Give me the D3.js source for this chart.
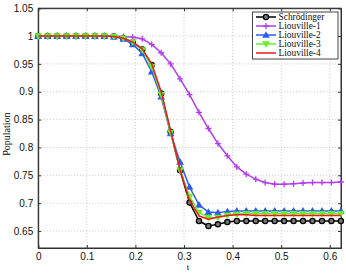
<!DOCTYPE html>
<html>
<head>
<meta charset="utf-8">
<script src="https://cdn.jsdelivr.net/npm/d3@7"></script>
<style>
  body { margin: 0; background: #fff; }
  svg { display: block; }
</style>
</head>
<body>
<script>
const tStep = 0.01946;
const tValues = d3.range(33).map(i => i * tStep);

// Population per series
const schrodinger = [1,1,1,1,1,1,1,1,0.999,0.996,0.989,0.976,0.948,0.897,0.828,0.759,0.701,0.668,0.659,0.662,0.666,0.668,0.668,0.668,0.668,0.668,0.668,0.668,0.668,0.668,0.668,0.668,0.668];
const liouville1 = [1,1,1,1,1,1,1,1,1,0.999,0.998,0.995,0.985,0.970,0.950,0.923,0.895,0.863,0.834,0.807,0.785,0.765,0.752,0.743,0.737,0.734,0.734,0.735,0.736,0.737,0.737,0.737,0.738];
const liouville2 = [1,1,1,1,1,1,1,1,0.999,0.995,0.985,0.969,0.936,0.891,0.825,0.774,0.729,0.697,0.684,0.683,0.685,0.686,0.686,0.686,0.686,0.686,0.686,0.686,0.686,0.686,0.686,0.686,0.686];
const liouville3 = [1,1,1,1,1,1,1,1,0.999,0.996,0.989,0.975,0.945,0.895,0.827,0.759,0.712,0.683,0.674,0.674,0.678,0.680,0.681,0.681,0.681,0.681,0.681,0.681,0.681,0.681,0.681,0.681,0.681];
const liouville4 = [1,1,1,1,1,1,1,1,0.999,0.996,0.989,0.977,0.950,0.900,0.830,0.760,0.705,0.677,0.671,0.675,0.678,0.679,0.679,0.678,0.678,0.678,0.678,0.678,0.678,0.678,0.678,0.678,0.678];

const seriesNames = ["Schrödinger", "Liouville-1", "Liouville-2", "Liouville-3", "Liouville-4"];
const xTicks = [0, 0.1, 0.2, 0.3, 0.4, 0.5, 0.6];
const yTicks = [0.65, 0.7, 0.75, 0.8, 0.85, 0.9, 0.95, 1, 1.05];

const width = 346, height = 273;
const plotLeft = 38.2, plotRight = 341, plotTop = 8.2, plotBottom = 248;

const svg = d3.select("body").append("svg")
  .attr("width", width)
  .attr("height", height);

const x = d3.scaleLinear().domain([0, 0.623]).range([plotLeft, plotRight]);
const y = d3.scaleLinear().domain([0.6195, 1.05]).range([plotBottom, plotTop]);

// Grid lines (dotted)
svg.append("g").selectAll("line").data(xTicks.slice(1)).join("line")
  .attr("x1", d => x(d)).attr("x2", d => x(d))
  .attr("y1", plotTop).attr("y2", plotBottom)
  .attr("stroke", "#c8c8c8").attr("stroke-dasharray", "1,2");
svg.append("g").selectAll("line").data(yTicks.slice(0, -1)).join("line")
  .attr("x1", plotLeft).attr("x2", plotRight)
  .attr("y1", d => y(d)).attr("y2", d => y(d))
  .attr("stroke", "#c8c8c8").attr("stroke-dasharray", "1,2");

// Axes with inward ticks on all four sides
const tickFont = "Liberation Sans, Arial, sans-serif";
svg.append("g").attr("transform", `translate(0,${plotBottom})`)
  .call(d3.axisBottom(x).tickValues(xTicks).tickSize(-3).tickPadding(5).tickFormat(d3.format("")));
svg.append("g").attr("transform", `translate(${plotLeft},0)`)
  .call(d3.axisLeft(y).tickValues(yTicks).tickSize(-3).tickPadding(5).tickFormat(d3.format("")));
svg.append("g").attr("transform", `translate(0,${plotTop})`)
  .call(d3.axisTop(x).tickValues(xTicks).tickSize(-3).tickFormat(""));
svg.append("g").attr("transform", `translate(${plotRight},0)`)
  .call(d3.axisRight(y).tickValues(yTicks).tickSize(-3).tickFormat(""));
svg.selectAll(".domain").attr("stroke", "#333");
svg.selectAll(".tick line").attr("stroke", "#333");
svg.selectAll(".tick text").attr("font-family", tickFont).attr("font-size", 10).attr("fill", "#111");

// Frame
svg.append("rect")
  .attr("x", plotLeft).attr("y", plotTop)
  .attr("width", plotRight - plotLeft).attr("height", plotBottom - plotTop)
  .attr("fill", "none").attr("stroke", "#333");

// Axis labels
svg.append("text")
  .attr("x", x(0.3) + 4).attr("y", 270)
  .attr("text-anchor", "middle")
  .attr("font-family", "Liberation Serif, serif").attr("font-size", 9)
  .text("t");
svg.append("text")
  .attr("transform", `translate(10,${(plotTop + plotBottom) / 2 + 6}) rotate(-90)`)
  .attr("text-anchor", "middle")
  .attr("font-family", "Liberation Serif, serif").attr("font-size", 10)
  .text("Population");

// Series config
const series = [
  { name: seriesNames[0], values: schrodinger, color: "#000000", marker: "circle" },
  { name: seriesNames[1], values: liouville1, color: "#b43cf0", marker: "plus" },
  { name: seriesNames[2], values: liouville2, color: "#2a5cf5", marker: "up" },
  { name: seriesNames[3], values: liouville3, color: "#66f22a", marker: "down" },
  { name: seriesNames[4], values: liouville4, color: "#ee1a1a", marker: null }
];

const line = d3.line().x(d => x(d[0])).y(d => y(d[1]));

function drawMarker(g, marker, color, cx, cy) {
  if (marker === "circle") {
    g.append("circle").attr("cx", cx).attr("cy", cy).attr("r", 2.6)
      .attr("fill", "#777").attr("stroke", color).attr("stroke-width", 1.3);
  } else if (marker === "plus") {
    g.append("path").attr("d", `M${cx - 3},${cy}H${cx + 3}M${cx},${cy - 3}V${cy + 3}`)
      .attr("stroke", color).attr("stroke-width", 1.3);
  } else if (marker === "up") {
    g.append("path").attr("d", d3.symbol(d3.symbolTriangle, 26)())
      .attr("transform", `translate(${cx},${cy + 0.6})`).attr("fill", color);
  } else if (marker === "down") {
    g.append("path").attr("d", d3.symbol(d3.symbolTriangle, 26)())
      .attr("transform", `translate(${cx},${cy - 0.6}) rotate(180)`).attr("fill", color);
  }
}

const plot = svg.append("g");
series.forEach(s => {
  const pts = tValues.map((t, i) => [t, s.values[i]]);
  const g = plot.append("g");
  g.append("path").datum(pts)
    .attr("d", line).attr("fill", "none")
    .attr("stroke", s.color).attr("stroke-width", 1.5)
    .attr("stroke-linejoin", "round");
  if (s.marker) pts.forEach(p => drawMarker(g, s.marker, s.color, x(p[0]), y(p[1])));
});

// Legend
const lg = svg.append("g");
lg.append("rect")
  .attr("x", 252.5).attr("y", 12).attr("width", 85.5).attr("height", 47)
  .attr("fill", "#fff").attr("stroke", "#444");
series.forEach((s, i) => {
  const ly = 17 + i * 9;
  lg.append("line").attr("x1", 256).attr("x2", 276).attr("y1", ly).attr("y2", ly)
    .attr("stroke", s.color).attr("stroke-width", 1.5);
  if (s.marker) drawMarker(lg, s.marker, s.color, 266, ly);
  lg.append("text").attr("x", 278.5).attr("y", ly + 3.2)
    .attr("font-family", "Liberation Serif, serif").attr("font-size", 9.4)
    .attr("fill", "#111")
    .text(s.name);
});
</script>
</body>
</html>
